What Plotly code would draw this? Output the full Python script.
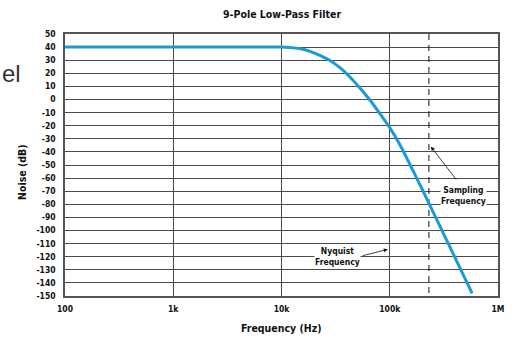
import numpy as np
import plotly.graph_objects as go

# Filter response (frequency in Hz, gain in dB)
freq_hz = [100, 1000, 5000, 10000, 16500, 27000, 38000, 46000, 65000,
           83000, 100000, 127000, 181000, 208000, 577000]
noise_db = [40, 40, 40, 40, 38, 30.5, 21.5, 14.5, 0,
            -12, -21.5, -36, -61.5, -71.6, -148]

sampling_freq = 230000

x_tickvals = [100, 1000, 10000, 100000, 1000000]
x_ticktext = ["100", "1k", "10k", "100k", "1M"]
y_tickvals = list(range(-150, 51, 10))
y_ticktext = [str(v) for v in y_tickvals]

FONT = "DejaVu Sans Condensed, Liberation Sans, sans-serif"

fig = go.Figure()

# sampling frequency marker
fig.add_trace(go.Scatter(
    x=[sampling_freq, sampling_freq], y=[50, -150], mode="lines",
    line=dict(color="#111111", width=1, dash="6px,5px"),
    hoverinfo="skip", showlegend=False,
))

# filter curve
fig.add_trace(go.Scatter(
    x=freq_hz, y=noise_db, mode="lines",
    line=dict(color="#1A9AD6", width=3, shape="spline", smoothing=0.7),
    showlegend=False,
))

axis_common = dict(
    showline=True, linecolor="#555555", linewidth=1.5, mirror=True,
    showgrid=True, gridcolor="#4a4a4a", gridwidth=1,
    zeroline=False, ticks="",
    tickfont=dict(family=FONT, size=8.5, color="#111111", weight="bold"),
)

fig.update_xaxes(
    type="log", range=[2, 6], tickvals=x_tickvals, ticktext=x_ticktext,
    ticklabelstandoff=4, **axis_common,
)
fig.update_yaxes(
    range=[-150, 50], tickvals=y_tickvals, ticktext=y_ticktext,
    ticklabelstandoff=6, **axis_common,
)

bold = dict(family=FONT, color="#111111", weight="bold")

annotations = [
    # chart title
    dict(text="9-Pole Low-Pass Filter", xref="paper", yref="paper",
         x=0.5, y=1, yshift=20, showarrow=False, xanchor="center",
         yanchor="middle", font=dict(size=10.5, **bold)),
    # axis titles
    dict(text="Frequency (Hz)", xref="paper", yref="paper", x=0.5, y=0,
         yshift=-32, showarrow=False, xanchor="center", yanchor="middle",
         font=dict(size=10.5, **bold)),
    dict(text="Noise (dB)", xref="paper", yref="paper", x=0, y=0.5,
         xshift=-43, yshift=-7, textangle=-90, showarrow=False,
         xanchor="center", yanchor="middle", font=dict(size=10.5, **bold)),
    # callouts
    dict(text="Sampling<br>Frequency", xref="x", yref="y", x=5.679, y=-72.9,
         showarrow=False, bgcolor="white", borderpad=0,
         font=dict(size=8.5, **bold)),
    dict(text="", xref="x", yref="y", x=5.38, y=-36, axref="x", ayref="y",
         ax=5.624, ay=-62.2, showarrow=True, arrowhead=2, arrowsize=1,
         arrowwidth=0.8, arrowcolor="#111111"),
    dict(text="Nyquist<br>Frequency", xref="x", yref="y", x=4.52, y=-120.2,
         showarrow=False, bgcolor="white", borderpad=0,
         font=dict(size=8.5, **bold)),
    dict(text="", xref="x", yref="y", x=4.982, y=-114.4, axref="x", ayref="y",
         ax=4.737, ay=-119.5, showarrow=True, arrowhead=2, arrowsize=1,
         arrowwidth=0.8, arrowcolor="#111111"),
    # side label at the page edge
    dict(text="el", xref="paper", yref="paper", x=0, y=1, xshift=-65,
         yshift=-39, showarrow=False, xanchor="left", yanchor="middle",
         font=dict(family="Liberation Sans, sans-serif", size=24,
                   color="#333333")),
]

fig.update_layout(
    width=516, height=339,
    margin=dict(l=65, r=15, t=34, b=43),
    paper_bgcolor="white", plot_bgcolor="white",
    annotations=annotations,
    hovermode=False,
)

fig.write_html("out.html", config={"displayModeBar": False})
